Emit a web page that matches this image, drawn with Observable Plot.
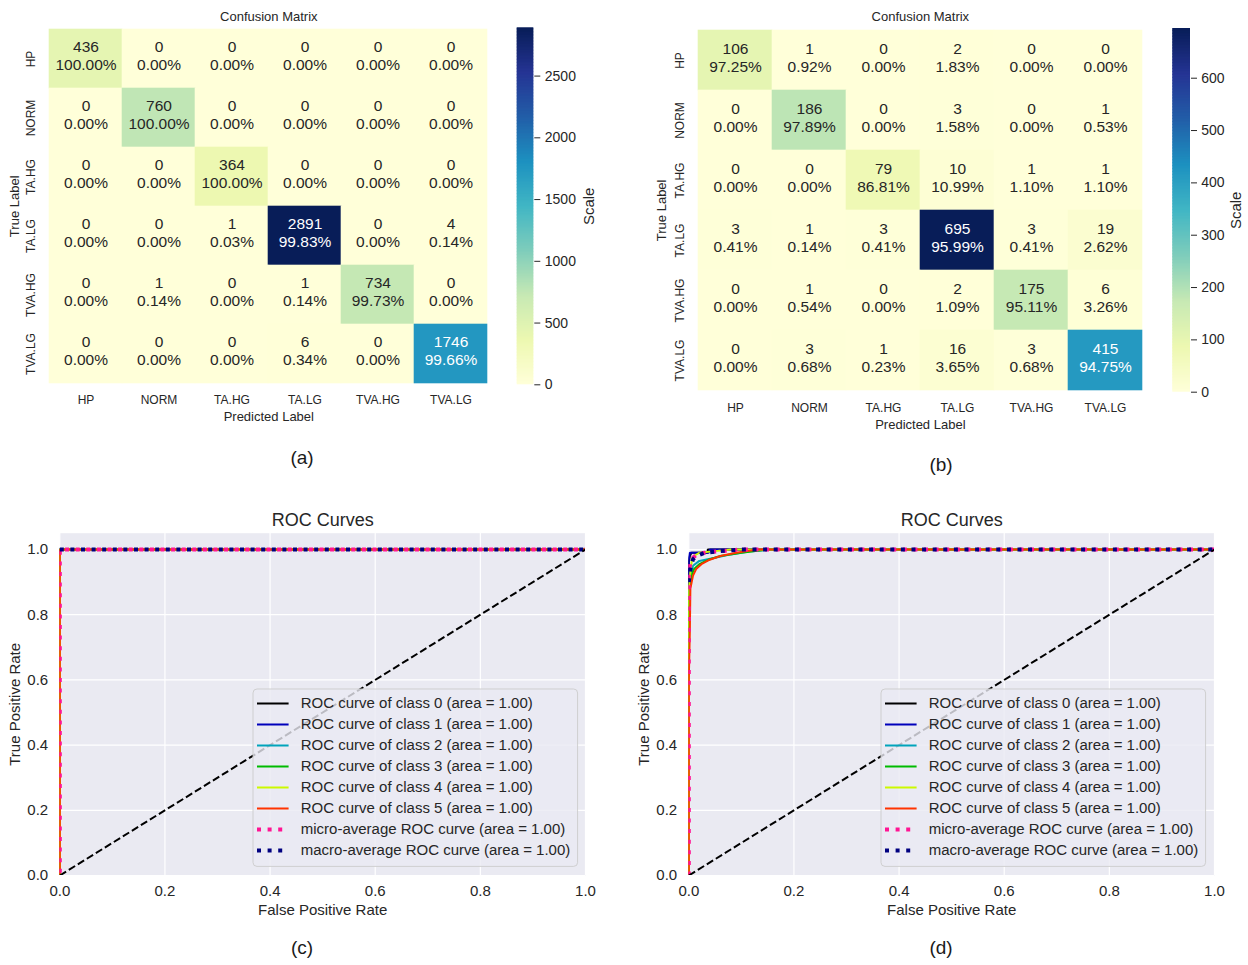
<!DOCTYPE html>
<html>
<head>
<meta charset="utf-8">
<script src="https://cdn.jsdelivr.net/npm/d3@7"></script>
<script src="https://cdn.jsdelivr.net/npm/@observablehq/plot@0.6"></script>
<style>
  body { margin: 0; background: #ffffff; }
  #fig { position: relative; width: 1248px; height: 965px; font-family: "Liberation Sans", Arial, sans-serif; color: #262626; overflow: hidden; }
  #fig svg { position: absolute; }
  .cap { position: absolute; font-size: 19px; color: #1a1a1a; transform: translate(-50%, -50%); white-space: nowrap; }
</style>
</head>
<body>
<div id="fig"></div>
<script>
// ---------------- DATA ----------------
const classNames = ["HP", "NORM", "TA.HG", "TA.LG", "TVA.HG", "TVA.LG"];

// (a) confusion matrix counts (rows = true label, cols = predicted label)
const cmA = [
  [436, 0, 0, 0, 0, 0],
  [0, 760, 0, 0, 0, 0],
  [0, 0, 364, 0, 0, 0],
  [0, 0, 1, 2891, 0, 4],
  [0, 1, 0, 1, 734, 0],
  [0, 0, 0, 6, 0, 1746]
];
// (b) confusion matrix counts
const cmB = [
  [106, 1, 0, 2, 0, 0],
  [0, 186, 0, 3, 0, 1],
  [0, 0, 79, 10, 1, 1],
  [3, 1, 3, 695, 3, 19],
  [0, 1, 0, 2, 175, 6],
  [0, 3, 1, 16, 3, 415]
];
const cbarTicksA = [0, 500, 1000, 1500, 2000, 2500];
const cbarTicksB = [0, 100, 200, 300, 400, 500, 600];
const ylgnbu = ["#ffffd9", "#edf8b1", "#c7e9b4", "#7fcdbb", "#41b6c4", "#1d91c0", "#225ea8", "#253494", "#081d58"];

// ROC legend labels and colours (6 classes, micro, macro)
const rocLabels = [
  "ROC curve of class 0 (area = 1.00)",
  "ROC curve of class 1 (area = 1.00)",
  "ROC curve of class 2 (area = 1.00)",
  "ROC curve of class 3 (area = 1.00)",
  "ROC curve of class 4 (area = 1.00)",
  "ROC curve of class 5 (area = 1.00)",
  "micro-average ROC curve (area = 1.00)",
  "macro-average ROC curve (area = 1.00)"
];
const rocColors = ["#000000", "#0000bb", "#00a4bb", "#00bb00", "#ccf900", "#ff3300", "#ff1493", "#000080"];
const rocTicks = [0, 0.2, 0.4, 0.6, 0.8, 1.0];

// (c) ROC curves (FPR / TPR per curve)
const rocC_fpr = [
  [0, 0, 1], [0, 0, 1], [0, 0, 1], [0, 0, 1], [0, 0, 1], [0, 0, 1],
  [0, 0, 1],
  [0, 1]
];
const rocC_tpr = [
  [0, 1, 1], [0, 1, 1], [0, 1, 1], [0, 1, 1], [0, 1, 1], [0, 1, 1],
  [0, 1, 1],
  [1, 1]
];

// (d) ROC curves (FPR / TPR per curve)
const rocD_fpr = [
  [0, 0, 0.002, 0.005, 0.036, 0.036, 1],
  [0, 0, 0.002, 0.038, 0.04, 1],
  [0, 0, 0.004, 0.008, 0.02, 0.05, 0.08, 0.12, 0.16, 1],
  [0, 0, 0.005, 0.01, 0.02, 0.04, 0.06, 0.1, 0.15, 1],
  [0, 0, 0.003, 0.006, 0.01, 0.02, 0.05, 0.08, 1],
  [0, 0, 0.002, 0.003, 0.008, 0.014, 0.024, 0.037, 0.06, 0.09, 0.13, 1],
  [0, 0, 0.003, 0.008, 0.015, 0.03, 0.06, 0.1, 1],
  [0, 0.004, 0.008, 0.015, 0.03, 0.06, 0.1, 1]
];
const rocD_tpr = [
  [0, 0.96, 0.98, 0.99, 0.99, 1, 1],
  [0, 0.97, 0.99, 0.99, 1, 1],
  [0, 0.86, 0.92, 0.95, 0.965, 0.975, 0.985, 0.995, 1, 1],
  [0, 0.85, 0.92, 0.94, 0.955, 0.97, 0.98, 0.99, 1, 1],
  [0, 0.88, 0.93, 0.97, 0.98, 0.99, 0.995, 1, 1],
  [0, 0.6, 0.75, 0.88, 0.92, 0.94, 0.955, 0.967, 0.98, 0.99, 1, 1],
  [0, 0.93, 0.96, 0.975, 0.985, 0.99, 0.995, 1, 1],
  [0.9, 0.95, 0.97, 0.98, 0.99, 0.995, 1, 1]
];
const diag_fpr = [0, 1];
const diag_tpr = [0, 1];

// ---------------- RENDER ----------------
const FONT = "'Liberation Sans', Arial, sans-serif";
const INK = "#262626";
const fig = document.getElementById("fig");
const baseStyle = {background: "transparent", fontFamily: FONT, fontSize: "12px", color: INK, overflow: "visible"};

function place(el, left, top) {
  el.style.left = left + "px";
  el.style.top = top + "px";
  fig.appendChild(el);
}

function luminance(c) {
  const r = d3.rgb(c);
  const f = v => { v /= 255; return v <= 0.03928 ? v / 12.92 : Math.pow((v + 0.055) / 1.055, 2.4); };
  return 0.2126 * f(r.r) + 0.7152 * f(r.g) + 0.0722 * f(r.b);
}

function confusion(cm, L) {
  const cells = [];
  cm.forEach((row, i) => {
    const s = d3.sum(row);
    row.forEach((v, j) => cells.push({t: classNames[i], p: classNames[j], v, pct: (v / s * 100).toFixed(2) + "%"}));
  });
  const max = d3.max(cells, d => d.v);
  const stops = ylgnbu.map((_, k) => max * k / (ylgnbu.length - 1));
  const colorCfg = {type: "linear", domain: stops, range: ylgnbu, interpolate: "rgb"};
  const cfn = d3.scaleLinear().domain(stops).range(ylgnbu).interpolate(d3.interpolateRgb);
  const isDark = d => luminance(cfn(d.v)) <= 0.408;
  const label = d => d.v + "\n" + d.pct;

  const hm = Plot.plot({
    width: L.w, height: 440,
    marginLeft: L.ml, marginRight: L.mr, marginTop: L.mt, marginBottom: L.mb,
    x: {type: "band", domain: classNames, padding: 0, axis: null},
    y: {type: "band", domain: classNames, padding: 0, axis: null},
    color: colorCfg,
    style: baseStyle,
    marks: [
      Plot.cell(cells, {x: "p", y: "t", fill: "v", inset: -0.3}),
      Plot.text(cells.filter(d => !isDark(d)), {x: "p", y: "t", text: label, fill: INK, fontSize: 15.5, lineHeight: 1.15, dy: -3.5}),
      Plot.text(cells.filter(isDark), {x: "p", y: "t", text: label, fill: "#ffffff", fontSize: 15.5, lineHeight: 1.15, dy: -3.5}),
      Plot.text(classNames, {y: d => d, frameAnchor: "left", dx: L.ylabDx, rotate: -90, fontSize: 12, textAnchor: "middle", lineAnchor: "middle", fill: INK}),
      Plot.text(classNames, {x: d => d, frameAnchor: "bottom", dy: L.xlabDy, fontSize: 12, lineAnchor: "middle", fill: INK}),
      Plot.text(["Confusion Matrix"], {frameAnchor: "top", dy: L.titleDy, fontSize: 13, lineAnchor: "middle", fill: INK}),
      Plot.text(["Predicted Label"], {frameAnchor: "bottom", dy: L.xTitleDy, fontSize: 13, lineAnchor: "middle", fill: INK}),
      Plot.text(["True Label"], {frameAnchor: "left", dx: L.yTitleDx, rotate: -90, fontSize: 13, lineAnchor: "middle", textAnchor: "middle", fill: INK})
    ]
  });
  place(hm, L.left, 0);

  const N = 240;
  const ramp = d3.range(N).map(i => [max * i / N, Math.min(max, max * (i + 1.6) / N)]);
  const cb = Plot.plot({
    width: L.cbW, height: 440,
    marginLeft: L.cbMl, marginRight: L.cbMr, marginTop: L.mt, marginBottom: L.mb,
    x: {domain: [0, 1], axis: null},
    y: {domain: [0, max], axis: null},
    color: colorCfg,
    style: baseStyle,
    marks: [
      Plot.rect(ramp, {x1: 0, x2: 1, y1: d => d[0], y2: d => d[1], fill: d => (d[0] + d[1]) / 2}),
      Plot.axisY({anchor: "right", ticks: L.cbTicks, tickSize: 6, tickPadding: L.cbPad, tickFormat: d3.format("d"), fontSize: 14, stroke: INK, fill: INK, label: null}),
      Plot.text(["Scale"], {frameAnchor: "right", dx: L.scaleDx, rotate: -90, fontSize: 15, textAnchor: "middle", lineAnchor: "middle", fill: INK})
    ]
  });
  place(cb, L.cbLeft, 0);
}

confusion(cmA, {
  left: 0, w: 500, ml: 48.3, mr: 500 - 488.3, mt: 27.3, mb: 440 - 384.3,
  ylabDx: -17.6, xlabDy: 15.7, titleDy: -11.3, xTitleDy: 32.4, yTitleDx: -33.6,
  cbLeft: 500, cbW: 120, cbMl: 16.7, cbMr: 120 - 33.3, cbTicks: cbarTicksA, cbPad: 5, scaleDx: 55.7
});
confusion(cmB, {
  left: 625, w: 540, ml: 70.7, mr: 540 - 519, mt: 28, mb: 440 - 391.7,
  ylabDx: -16.4, xlabDy: 15.6, titleDy: -12, xTitleDy: 32.3, yTitleDx: -34.2,
  cbLeft: 1150, cbW: 98, cbMl: 22.3, cbMr: 98 - 40, cbTicks: cbarTicksB, cbPad: 4.7, scaleDx: 46
});

const lineStyle = [
  {w: 2}, {w: 2}, {w: 2}, {w: 2}, {w: 2}, {w: 2},
  {w: 4, dash: "4,6.6"},
  {w: 4, dash: "4,6.6"}
];

function rocPanel(fprs, tprs, left, microOffset) {
  const curves = fprs.map((fx, k) => {
    const st = lineStyle[k];
    return Plot.line(d3.zip(fx, tprs[k]), {
      stroke: rocColors[k], strokeWidth: st.w,
      strokeDasharray: st.dash, strokeDashoffset: k === 6 ? microOffset : 0,
      strokeLinecap: "butt", strokeLinejoin: "miter", clip: true
    });
  });
  const p = Plot.plot({
    width: 620, height: 440,
    marginLeft: 59.3, marginRight: 35, marginTop: 32.7, marginBottom: 65,
    x: {domain: [0, 1]},
    y: {domain: [0, 1.05]},
    style: baseStyle,
    marks: [
      Plot.frame({fill: "#EAEAF2", stroke: "none"}),
      Plot.gridX({ticks: rocTicks, stroke: "#ffffff", strokeOpacity: 1, strokeWidth: 1.2}),
      Plot.gridY({ticks: rocTicks, stroke: "#ffffff", strokeOpacity: 1, strokeWidth: 1.2}),
      Plot.axisX({ticks: rocTicks, tickSize: 0, tickPadding: 10, tickFormat: d3.format(".1f"), fontSize: 15, fill: INK, label: null}),
      Plot.axisY({ticks: rocTicks, tickSize: 0, tickPadding: 11.6, tickFormat: d3.format(".1f"), fontSize: 15, fill: INK, label: null}),
      ...curves,
      Plot.line(d3.zip(diag_fpr, diag_tpr), {stroke: "#000000", strokeWidth: 2, strokeDasharray: "7.4,3.2", strokeLinecap: "butt", clip: true}),
      Plot.text(["ROC Curves"], {frameAnchor: "top", dy: -12.7, fontSize: 18, lineAnchor: "middle", fill: INK}),
      Plot.text(["False Positive Rate"], {frameAnchor: "bottom", dy: 35, fontSize: 15, lineAnchor: "middle", fill: INK}),
      Plot.text(["True Positive Rate"], {frameAnchor: "left", dx: -44.6, rotate: -90, fontSize: 15, lineAnchor: "middle", textAnchor: "middle", fill: INK})
    ]
  });
  place(p, left, 500);

  // legend (lower right, inside the axes)
  const lw = 325.6, lh = 178.4;
  const items = rocLabels.map((label, k) => ({label, k}));
  const leg = Plot.plot({
    width: lw, height: lh,
    marginLeft: 0, marginRight: 0, marginTop: 0, marginBottom: 0,
    x: {domain: [0, 1], axis: null},
    y: {type: "point", domain: rocLabels, range: [12.4, 164.4], padding: 0, axis: null},
    style: baseStyle,
    marks: [
      Plot.frame({fill: "#EAEAF2", fillOpacity: 0.8, stroke: "#cccccc", strokeOpacity: 0.9, rx: 4, inset: 0.5}),
      ...items.map(it => Plot.ruleY([it.label], {
        stroke: rocColors[it.k], strokeWidth: lineStyle[it.k].w, strokeDasharray: lineStyle[it.k].dash,
        strokeLinecap: "butt", insetLeft: 5, insetRight: lw - 36.6
      })),
      Plot.text(items, {y: "label", text: "label", frameAnchor: "left", dx: 48.3, textAnchor: "start", lineAnchor: "middle", fontSize: 15, fill: INK})
    ]
  });
  place(leg, left + 585 - 7.7 - lw, 500 + 375 - 8.3 - lh);
}

rocPanel(rocC_fpr, rocC_tpr, 0, 7.9);
rocPanel(rocD_fpr, rocD_tpr, 628.7, 0);

// panel captions
[["(a)", 302, 458], ["(b)", 941, 465], ["(c)", 302, 948], ["(d)", 941, 948]].forEach(([t, x, y]) => {
  const d = document.createElement("div");
  d.className = "cap";
  d.textContent = t;
  d.style.left = x + "px";
  d.style.top = y + "px";
  fig.appendChild(d);
});
</script>
</body>
</html>
